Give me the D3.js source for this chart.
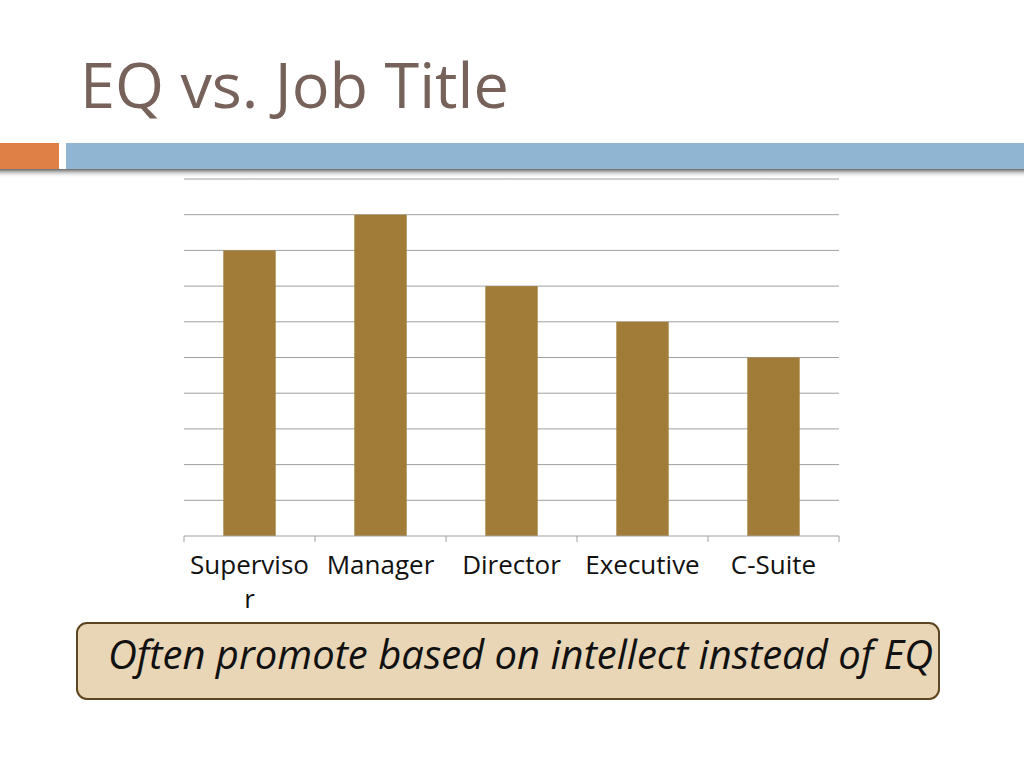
<!DOCTYPE html>
<html>
<head>
<meta charset="utf-8">
<script src="https://cdn.jsdelivr.net/npm/d3@7"></script>
<style>
  body { margin: 0; background: #fff; }
  svg { display: block; font-family: "Open Sans", "Noto Sans", sans-serif; }
</style>
</head>
<body>
<div class="box"></div>
<script>
// data
const jobTitles = ['Superviso|r', 'Manager', 'Director', 'Executive', 'C-Suite'];
const eqValues = [8, 9, 7, 6, 5];
const yTicks = [0, 1, 2, 3, 4, 5, 6, 7, 8, 9, 10];

const svg = d3.select('.box')
              .append('svg')
              .attr('width', 1024)
              .attr('height', 768);

// title
svg.append('text')
   .attr('x', 80)
   .attr('y', 108)
   .attr('fill', '#76625a')
   .style('font-size', '63px')
   .text('EQ vs. Job Title');

// header bars + shadow
const defs = svg.append('defs');
const shadow = defs.append('linearGradient')
                   .attr('id', 'shadow')
                   .attr('x1', 0).attr('y1', 0).attr('x2', 0).attr('y2', 1);
shadow.append('stop').attr('offset', '0%').attr('stop-color', '#666');
shadow.append('stop').attr('offset', '100%').attr('stop-color', '#fff').attr('stop-opacity', 0);

svg.append('rect').attr('x', 0).attr('y', 169).attr('width', 1024).attr('height', 9)
   .attr('fill', 'url(#shadow)');
svg.append('rect').attr('x', 0).attr('y', 143).attr('width', 59).attr('height', 26)
   .attr('fill', '#df8146');
svg.append('rect').attr('x', 66).attr('y', 143).attr('width', 958).attr('height', 26)
   .attr('fill', '#90b5d2');

// chart
const margin = {top: 179, left: 184};
const graphWidth = 655;
const graphHeight = 357;

const graph = svg.append('g')
                 .attr('transform', `translate(${margin.left}, ${margin.top})`);

const y = d3.scaleLinear()
            .domain([0, 10])
            .range([graphHeight, 0]);

const x = d3.scaleBand()
            .domain(jobTitles)
            .range([0, graphWidth])
            .paddingInner(0.6)
            .paddingOuter(0.3);

// gridlines
graph.selectAll('line.grid')
     .data(yTicks.slice(1))
     .enter()
     .append('line')
     .attr('class', 'grid')
     .attr('x1', 0)
     .attr('x2', graphWidth)
     .attr('y1', d => y(d))
     .attr('y2', d => y(d))
     .attr('stroke', '#a0a0a0')
     .attr('stroke-width', 1);

graph.selectAll('rect.bar')
     .data(eqValues)
     .enter()
     .append('rect')
     .attr('class', 'bar')
     .attr('x', (d, i) => x(jobTitles[i]))
     .attr('y', d => y(d))
     .attr('width', x.bandwidth())
     .attr('height', d => graphHeight - y(d))
     .attr('fill', '#a07c38');

// x axis: baseline, ticks at category boundaries
const groupeX = graph.append('g')
                     .attr('transform', `translate(0, ${graphHeight})`);
const bounds = d3.range(jobTitles.length + 1).map(i => i * graphWidth / jobTitles.length);

groupeX.append('line')
       .attr('x1', 0).attr('x2', graphWidth)
       .attr('stroke', '#a0a0a0');
groupeX.selectAll('line.tick')
       .data(bounds)
       .enter()
       .append('line')
       .attr('class', 'tick')
       .attr('x1', d => d).attr('x2', d => d)
       .attr('y1', 0).attr('y2', 6)
       .attr('stroke', '#a0a0a0');

groupeX.selectAll('text')
       .data(jobTitles)
       .enter()
       .append('text')
       .attr('x', d => x(d) + x.bandwidth() / 2)
       .attr('y', 38)
       .attr('text-anchor', 'middle')
       .attr('fill', '#111')
       .style('font-size', '26px')
       .each(function(d) {
         const parts = d.split('|');
         d3.select(this).selectAll('tspan')
           .data(parts)
           .enter()
           .append('tspan')
           .attr('x', x(d) + x.bandwidth() / 2)
           .attr('dy', (p, i) => i === 0 ? 0 : 34)
           .text(p => p);
       });

// callout
svg.append('rect')
   .attr('x', 77).attr('y', 623)
   .attr('width', 862).attr('height', 76)
   .attr('rx', 10)
   .attr('fill', '#e8d6b6')
   .attr('stroke', '#5c4520')
   .attr('stroke-width', 2);
svg.append('text')
   .attr('x', 108)
   .attr('y', 669)
   .attr('fill', '#111')
   .style('font-size', '40px')
   .style('font-style', 'italic')
   .text('Often promote based on intellect instead of EQ');
</script>
</body>
</html>
